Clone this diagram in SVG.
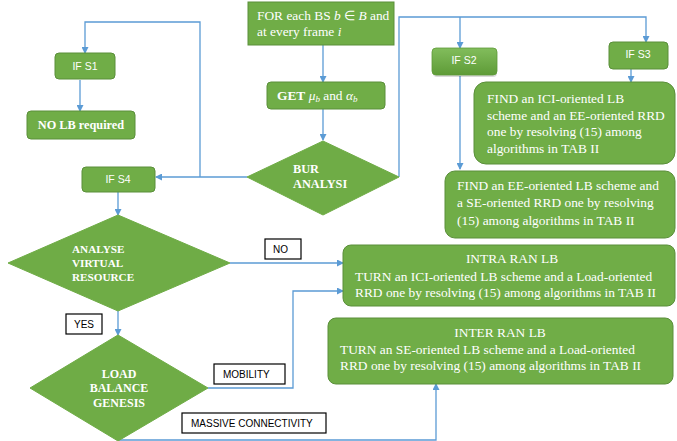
<svg xmlns="http://www.w3.org/2000/svg" width="677" height="441" viewBox="0 0 677 441">
<style>
.box{fill:#70AD47;stroke:#5A8F3A;stroke-width:1}
.dia{fill:#6FAC46;stroke:#6FAC46;stroke-width:1}
.lbl{fill:#ffffff;stroke:#000000;stroke-width:1.2}
.ln{fill:none;stroke:#5B9BD5;stroke-width:1.3}
.sn{font-family:"Liberation Sans",Arial,sans-serif;font-size:10.5px;fill:#ffffff}
.sr{font-family:"Liberation Serif","Times New Roman",serif;font-size:13.4px;fill:#ffffff}
.bd{font-family:"Liberation Serif","Times New Roman",serif;font-weight:bold;fill:#ffffff}
.bl{font-family:"Liberation Sans",Arial,sans-serif;font-size:10px;fill:#000000}
</style>
<defs>
<marker id="ah" markerWidth="7" markerHeight="7" refX="6" refY="3.5" orient="auto" markerUnits="userSpaceOnUse">
<path d="M0,0 L7,3.5 L0,7 z" fill="#5B9BD5"/>
</marker>
<linearGradient id="g2" x1="0" y1="0" x2="0" y2="1">
<stop offset="0" stop-color="#82BD5C"/>
<stop offset="1" stop-color="#5E9B37"/>
</linearGradient>
<linearGradient id="gb" x1="0" y1="0" x2="0" y2="1">
<stop offset="0" stop-color="#77B34E"/>
<stop offset="1" stop-color="#67A540"/>
</linearGradient>
</defs>

<g id="connectors">
<path class="ln" d="M323,45 V82" marker-end="url(#ah)"/>
<path class="ln" d="M323,109 V140" marker-end="url(#ah)"/>
<path class="ln" d="M247,177 H156" marker-end="url(#ah)"/>
<path class="ln" d="M200,177 V22 H85 V53" marker-end="url(#ah)"/>
<path class="ln" d="M399,177 V17 H646 V42" marker-end="url(#ah)"/>
<path class="ln" d="M460,17 V48" marker-end="url(#ah)"/>
<path class="ln" d="M80,80 V111" marker-end="url(#ah)"/>
<path class="ln" d="M631,69 V82" marker-end="url(#ah)"/>
<path class="ln" d="M460,76 V169" marker-end="url(#ah)"/>
<path class="ln" d="M118,192 V215" marker-end="url(#ah)"/>
<path class="ln" d="M230,263 H343" marker-end="url(#ah)"/>
<path class="ln" d="M118,311 V335" marker-end="url(#ah)"/>
<path class="ln" d="M208,388 H293 V291 H343" marker-end="url(#ah)"/>
<path class="ln" d="M118,440 H436 V384" marker-end="url(#ah)"/>
</g>

<g id="for">
<rect class="box" x="248" y="2" width="146" height="43" fill="url(#gb)"/>
<text class="sr" x="257" y="20">FOR each BS <tspan font-style="italic">b</tspan> ∈ <tspan font-style="italic">B</tspan> and</text>
<text class="sr" x="257" y="36">at every frame <tspan font-style="italic">i</tspan></text>
</g>

<g id="get">
<rect class="box" x="267" y="82" width="118" height="27" rx="4"/>
<text class="sr" x="277" y="100"><tspan font-weight="bold">GET</tspan>  <tspan font-style="italic">μ</tspan><tspan font-style="italic" font-size="9px" dy="2">b</tspan><tspan dy="-2"> and </tspan><tspan font-style="italic">α</tspan><tspan font-style="italic" font-size="9px" dy="2">b</tspan></text>
</g>

<g id="bur">
<polygon class="dia" points="323,141 399,177 323,215 247,177"/>
<text class="bd" font-size="12.3px" x="293" y="173">BUR</text>
<text class="bd" font-size="12.3px" x="293" y="188">ANALYSI</text>
</g>

<g id="ifs1">
<rect class="box" x="55" y="53" width="60" height="26" rx="4"/>
<text class="sn" x="85" y="70" text-anchor="middle">IF S1</text>
</g>

<g id="nolb">
<rect class="box" x="27" y="111" width="108" height="28" rx="4"/>
<text class="bd" font-size="12.3px" x="81" y="129" text-anchor="middle">NO LB required</text>
</g>

<g id="ifs4">
<rect class="box" x="82" y="167" width="73" height="25" rx="4"/>
<text class="sn" x="118" y="183" text-anchor="middle">IF S4</text>
</g>

<g id="ifs2">
<rect x="433" y="50" width="64" height="27" rx="4" fill="#000" opacity="0.15"/>
<rect x="432" y="48" width="65" height="27" rx="4" fill="url(#g2)" stroke="#5E9B37" stroke-width="0.8"/>
<text class="sn" x="464" y="64" text-anchor="middle">IF S2</text>
</g>

<g id="ifs3">
<rect class="box" x="609" y="42" width="59" height="27" rx="4"/>
<text class="sn" x="638" y="58" text-anchor="middle">IF S3</text>
</g>

<g id="findici">
<rect class="box" x="474" y="82" width="201" height="82" rx="12"/>
<text class="sr" x="487" y="103">FIND an ICI-oriented LB</text>
<text class="sr" x="487" y="120">scheme and an EE-oriented RRD</text>
<text class="sr" x="487" y="136">one by resolving (15) among</text>
<text class="sr" x="487" y="153">algorithms in TAB II</text>
</g>

<g id="findee">
<rect class="box" x="445" y="171" width="230" height="67" rx="10"/>
<text class="sr" x="457" y="190">FIND an EE-oriented LB scheme and</text>
<text class="sr" x="457" y="207">a SE-oriented RRD one by resolving</text>
<text class="sr" x="457" y="225">(15) among algorithms in TAB II</text>
</g>

<g id="analyse">
<polygon class="dia" points="118,215 230,263 118,311 8,263"/>
<text class="bd" font-size="11.2px" x="72" y="253">ANALYSE</text>
<text class="bd" font-size="11.2px" x="72" y="267">VIRTUAL</text>
<text class="bd" font-size="11.2px" x="72" y="281">RESOURCE</text>
</g>

<g id="load">
<polygon class="dia" points="118,335 208,388 118,441 30,388"/>
<text class="bd" font-size="12px" x="119" y="378" text-anchor="middle">LOAD</text>
<text class="bd" font-size="12px" x="119" y="392" text-anchor="middle">BALANCE</text>
<text class="bd" font-size="12px" x="119" y="407" text-anchor="middle">GENESIS</text>
</g>

<g id="intra">
<rect class="box" x="343" y="245" width="332" height="61" rx="8"/>
<text class="sr" x="512" y="263" text-anchor="middle">INTRA RAN LB</text>
<text class="sr" x="355" y="281">TURN an ICI-oriented LB scheme and a Load-oriented</text>
<text class="sr" x="355" y="297">RRD one by resolving (15) among algorithms in TAB II</text>
</g>

<g id="inter">
<rect class="box" x="328" y="318" width="345" height="66" rx="8"/>
<text class="sr" x="500" y="337" text-anchor="middle">INTER RAN LB</text>
<text class="sr" x="340" y="354">TURN an SE-oriented LB scheme and a Load-oriented</text>
<text class="sr" x="340" y="370">RRD one by resolving (15) among algorithms in TAB II</text>
</g>

<g id="lbl-no">
<rect class="lbl" x="265" y="239" width="36" height="20"/>
<text class="bl" x="273" y="253">NO</text>
</g>
<g id="lbl-yes">
<rect class="lbl" x="66" y="314" width="36" height="20"/>
<text class="bl" x="74" y="328">YES</text>
</g>
<g id="lbl-mobility">
<rect class="lbl" x="214" y="364" width="71" height="20"/>
<text class="bl" x="223" y="378">MOBILITY</text>
</g>
<g id="lbl-massive">
<rect class="lbl" x="182" y="413" width="144" height="20"/>
<text class="bl" x="191" y="427">MASSIVE CONNECTIVITY</text>
</g>
</svg>
